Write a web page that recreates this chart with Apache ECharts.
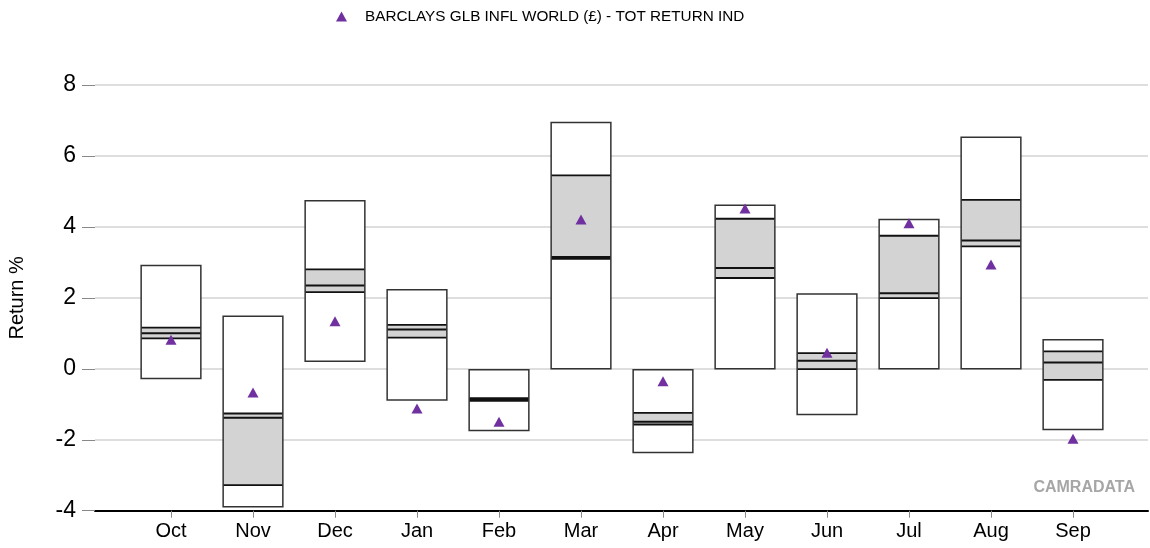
<!DOCTYPE html>
<html>
<head>
<meta charset="utf-8">
<script src="https://cdn.jsdelivr.net/npm/echarts@6/dist/echarts.min.js"></script>
<style>
  html, body { margin: 0; padding: 0; background: #fff; }
  #chart { width: 1150px; height: 548px; }
</style>
</head>
<body>
<div id="chart"></div>
<script>
// months of the year, Oct to Sep
const months = ['Oct', 'Nov', 'Dec', 'Jan', 'Feb', 'Mar', 'Apr', 'May', 'Jun', 'Jul', 'Aug', 'Sep'];

// range of returns per month (%)
const maxVals = [2.91, 1.48, 4.74, 2.23, -0.03, 6.94, -0.03, 4.61, 2.11, 4.21, 6.53, 0.82];
const upperQ  = [1.16, -1.26, 2.80, 1.24, -0.83, 5.45, -1.24, 4.23, 0.44, 3.75, 4.76, 0.49];
const median  = [1.00, -1.38, 2.35, 1.11, -0.86, 3.15, -1.49, 2.84, 0.23, 2.13, 3.62, 0.18];
const lowerQ  = [0.86, -3.28, 2.16, 0.88, -0.90, 3.10, -1.57, 2.56, -0.01, 1.99, 3.45, -0.31];
const minVals = [-0.27, -3.89, 0.21, -0.88, -1.74, 0.00, -2.36, 0.00, -1.29, 0.00, 0.00, -1.71];

// index return per month (%)
const indexName = 'BARCLAYS GLB INFL WORLD (£) - TOT RETURN IND';
const indexVals = [0.82, -0.67, 1.34, -1.12, -1.49, 4.21, -0.35, 4.52, 0.45, 4.10, 2.94, -1.97];

const yTicks = [-4, -2, 0, 2, 4, 6, 8];

const FONT = '"Liberation Sans", Arial, sans-serif';

const chart = echarts.init(document.getElementById('chart'));

function renderBox(params, api) {
  const idx = api.value(0);
  const cx = api.coord([idx, 0])[0];
  const w = api.size([1, 0])[0] * 0.728;
  const x0 = cx - w / 2;
  const yMax = api.coord([idx, api.value(1)])[1];
  const yUq = api.coord([idx, api.value(2)])[1];
  const yMed = api.coord([idx, api.value(3)])[1];
  const yLq = api.coord([idx, api.value(4)])[1];
  const yMin = api.coord([idx, api.value(5)])[1];
  const line = (y, lw) => ({
    type: 'line',
    shape: { x1: x0, y1: y, x2: x0 + w, y2: y },
    style: { stroke: '#111', lineWidth: lw }
  });
  return {
    type: 'group',
    children: [
      {
        type: 'rect',
        shape: { x: x0, y: yMax, width: w, height: yMin - yMax },
        style: { fill: '#fff', stroke: null }
      },
      {
        type: 'rect',
        shape: { x: x0, y: yUq, width: w, height: yLq - yUq },
        style: { fill: '#d3d3d3', stroke: null }
      },
      line(yUq, 1.8),
      line(yMed, 2),
      line(yLq, 1.8),
      {
        type: 'rect',
        shape: { x: x0, y: yMax, width: w, height: yMin - yMax },
        style: { fill: null, stroke: '#333', lineWidth: 1.5 }
      }
    ]
  };
}

const boxData = months.map((m, i) => [i, maxVals[i], upperQ[i], median[i], lowerQ[i], minVals[i]]);

const option = {
  backgroundColor: '#fff',
  animation: false,
  textStyle: { fontFamily: FONT },
  legend: {
    data: [indexName],
    left: 331,
    top: 4,
    itemWidth: 11,
    itemHeight: 10,
    textStyle: { fontSize: 15.3, color: '#000', fontFamily: FONT, padding: [0, 0, 0, 13] }
  },
  grid: [
    { left: 95, right: 2, top: 85, bottom: 37.3, outerBoundsMode: 'none' },
    { left: 130, width: 984, top: 85, bottom: 37.3, outerBoundsMode: 'none' }
  ],
  xAxis: [
    {
      gridIndex: 0,
      type: 'value',
      min: 0,
      max: 1,
      axisLine: { show: true, onZero: false, lineStyle: { color: '#000', width: 2 } },
      axisTick: { show: false },
      axisLabel: { show: false },
      splitLine: { show: false }
    },
    {
      gridIndex: 1,
      type: 'category',
      data: months,
      axisLine: { show: false, onZero: false },
      axisTick: { show: true, alignWithLabel: true, length: 7, lineStyle: { color: '#888' } },
      axisLabel: { color: '#000', fontSize: 20, margin: 11, fontFamily: FONT },
      splitLine: { show: false }
    }
  ],
  yAxis: [
    {
      gridIndex: 0,
      type: 'value',
      min: yTicks[0],
      max: yTicks[yTicks.length - 1],
      interval: 2,
      name: 'Return %',
      nameLocation: 'middle',
      nameRotate: 90,
      nameGap: 68,
      nameTextStyle: { fontSize: 20, color: '#000', fontFamily: FONT },
      axisLine: { show: false },
      axisTick: { show: true, length: 13, lineStyle: { color: '#888' } },
      axisLabel: { color: '#000', fontSize: 23, margin: 19, fontFamily: FONT },
      splitLine: { show: true, lineStyle: { color: '#dedede', width: 2 } }
    },
    {
      gridIndex: 1,
      type: 'value',
      min: yTicks[0],
      max: yTicks[yTicks.length - 1],
      interval: 2,
      show: false
    }
  ],
  graphic: [
    {
      type: 'text',
      right: 15,
      top: 480,
      style: {
        text: 'CAMRADATA',
        fill: '#a6a6a6',
        font: 'bold 16px "Liberation Sans", Arial, sans-serif'
      }
    }
  ],
  series: [
    {
      name: 'range',
      type: 'custom',
      xAxisIndex: 1,
      yAxisIndex: 1,
      renderItem: renderBox,
      data: boxData,
      z: 2
    },
    {
      name: indexName,
      type: 'scatter',
      xAxisIndex: 1,
      yAxisIndex: 1,
      symbol: 'triangle',
      symbolSize: [11, 10],
      itemStyle: { color: '#7030A0', opacity: 1 },
      data: indexVals.map((v, i) => [i, v]),
      z: 5
    }
  ]
};

chart.setOption(option);
</script>
</body>
</html>
